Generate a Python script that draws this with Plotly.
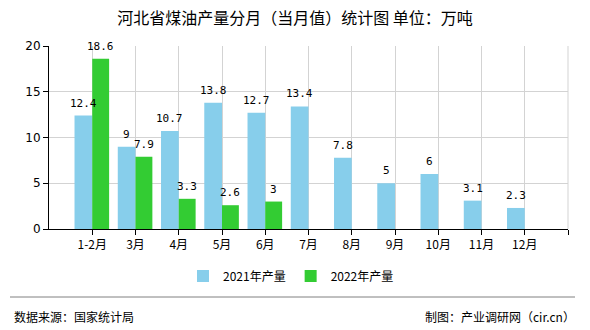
import plotly.graph_objects as go

categories = ["1-2月", "3月", "4月", "5月", "6月", "7月", "8月", "9月", "10月", "11月", "12月"]
values_2021 = [12.4, 9, 10.7, 13.8, 12.7, 13.4, 7.8, 5, 6, 3.1, 2.3]
values_2022 = [18.6, 7.9, 3.3, 2.6, 3]
series_names = ["2021年产量", "2022年产量"]
y_ticks = [0, 5, 10, 15, 20]

FONT = "Noto Sans CJK SC, DejaVu Sans, sans-serif"
MONO = "DejaVu Sans Mono, monospace"
xpos = list(range(len(categories)))

def fmt(v):
    return ("%g" % v)

BW1, BW2 = 0.41, 0.39

fig = go.Figure()
fig.add_trace(go.Bar(
    x=xpos, y=values_2021, name=series_names[0],
    marker=dict(color="#87CEEB", line=dict(width=0)),
    width=BW1, offset=-BW1,
))
fig.add_trace(go.Bar(
    x=xpos[:len(values_2022)], y=values_2022, name=series_names[1],
    marker=dict(color="#33CC33", line=dict(width=0)),
    width=BW2, offset=0,
))

for xi, v in zip(xpos, values_2021):
    fig.add_annotation(x=xi - BW1 / 2, y=v, text=fmt(v), showarrow=False,
                       xanchor="center", yanchor="bottom", yshift=4,
                       font=dict(size=11, family=MONO, color="#000000"))
for xi, v in zip(xpos, values_2022):
    fig.add_annotation(x=xi + BW2 / 2, y=v, text=fmt(v), showarrow=False,
                       xanchor="center", yanchor="bottom", yshift=4,
                       font=dict(size=11, family=MONO, color="#000000"))

L, R, T, B = 49, 22, 46, 101
W, H = 590, 330
pw = W - L - R
ph = H - T - B

def px_to_paper_x(px):
    return (px - L) / pw

def px_to_paper_y(py):
    return (H - B - py) / ph

fig.update_layout(
    width=W, height=H,
    margin=dict(l=L, r=R, t=T, b=B, pad=0),
    paper_bgcolor="white", plot_bgcolor="white",
    barmode="overlay",
    font=dict(family=FONT, size=12, color="#000000"),
    title=dict(text="河北省煤油产量分月（当月值）统计图 单位：万吨",
               x=0.5, xanchor="center", y=1 - 18 / H, yanchor="middle",
               font=dict(size=16, family=FONT, color="#000000")),
    xaxis=dict(
        range=[-1, len(categories)],
        tickvals=list(range(len(categories) + 1)),
        ticktext=categories + [""],
        showgrid=True, gridcolor="#d3d3d3", gridwidth=1,
        showline=True, linecolor="#000000", linewidth=1,
        ticks="outside", ticklen=5, tickcolor="#000000",
        tickfont=dict(size=12, family=FONT),
        zeroline=False, fixedrange=True,
    ),
    yaxis=dict(
        range=[0, 20],
        tickvals=y_ticks,
        showgrid=True, gridcolor="#d3d3d3", gridwidth=1,
        showline=True, linecolor="#000000", linewidth=1,
        ticks="outside", ticklen=5, tickcolor="#000000",
        tickfont=dict(size=12, family="DejaVu Sans, sans-serif"),
        zeroline=False, fixedrange=True,
    ),
    legend=dict(
        orientation="h", x=px_to_paper_x(291), xanchor="center",
        y=px_to_paper_y(276), yanchor="middle",
        font=dict(size=12, family=FONT), itemwidth=30,
        bgcolor="rgba(0,0,0,0)", traceorder="normal",
    ),
    showlegend=True,
)

fig.add_shape(type="line", xref="paper", yref="paper", x0=1, x1=1, y0=0, y1=1,
              line=dict(color="#d3d3d3", width=1))
fig.add_shape(type="line", xref="paper", yref="paper",
              x0=px_to_paper_x(10), x1=px_to_paper_x(575),
              y0=px_to_paper_y(297), y1=px_to_paper_y(297),
              line=dict(color="#808080", width=1))
fig.add_annotation(text="数据来源：国家统计局", xref="paper", yref="paper",
                   x=px_to_paper_x(12), y=px_to_paper_y(316), xanchor="left", yanchor="middle",
                   showarrow=False, font=dict(size=12, family=FONT, color="#000000"))
fig.add_annotation(text="制图：产业调研网（cir.cn）", xref="paper", yref="paper",
                   x=px_to_paper_x(577), y=px_to_paper_y(316), xanchor="right", yanchor="middle",
                   showarrow=False, font=dict(size=12, family=FONT, color="#000000"))

fig.write_html("out.html")
